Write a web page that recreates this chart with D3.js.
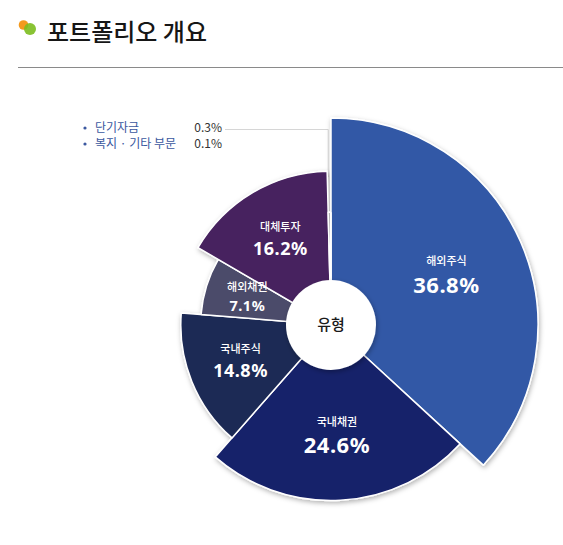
<!DOCTYPE html>
<html>
<head>
<meta charset="utf-8">
<script src="https://cdn.jsdelivr.net/npm/d3@7"></script>
<style>
  body { margin: 0; background: #fff; }
  svg { display: block; font-family: "Noto Sans CJK KR", "Noto Sans", sans-serif; }
</style>
</head>
<body>
<div id="chart"></div>
<script>
const categories = ["해외주식", "국내채권", "국내주식", "해외채권", "대체투자", "단기자금", "복지 · 기타 부문"];
const shares = [36.8, 24.6, 14.8, 7.1, 16.2, 0.3, 0.1];
const colors = ["#3159a6", "#17206a", "#1f2b55", "#4b4b6b", "#46225f", "#151515", "#8a8a8a"];
const centerLabel = "유형";
const titleText = "포트폴리오 개요";

const width = 563, height = 545;
const cx = 331, cy = 325, holeR = 45;

const data = categories.map((c, i) => ({ name: c, value: shares[i], color: colors[i] }));

const svg = d3.select("#chart").append("svg")
    .attr("width", width)
    .attr("height", height)
    .attr("viewBox", [0, 0, width, height]);

// soft shadow under the slices
const defs = svg.append("defs");
defs.append("filter").attr("id", "shadow")
    .attr("x", "-20%").attr("y", "-20%").attr("width", "140%").attr("height", "140%")
  .append("feDropShadow")
    .attr("dx", 1).attr("dy", 2)
    .attr("stdDeviation", 2.5)
    .attr("flood-color", "#000")
    .attr("flood-opacity", 0.3);

// title + icon
svg.append("circle").attr("cx", 23.5).attr("cy", 25).attr("r", 4.8).attr("fill", "#f39a1e");
svg.append("circle").attr("cx", 30).attr("cy", 29).attr("r", 6).attr("fill", "#7cbd1e").attr("fill-opacity", 0.9);
svg.append("text")
    .attr("x", 47).attr("y", 41)
    .attr("font-size", 24)
    .attr("font-weight", 500)
    .attr("fill", "#161616")
    .text(titleText);
svg.append("line")
    .attr("x1", 18).attr("x2", width)
    .attr("y1", 67.5).attr("y2", 67.5)
    .attr("stroke", "#8a8a8a").attr("stroke-width", 1.2);

// radius grows with the share
const r = d3.scaleLinear()
    .domain([0, d3.max(shares)])
    .range([112, 207]);

const pie = d3.pie()
    .sort(null)
    .value(d => d.value);

const arcs = pie(data);

const arc = d3.arc()
    .innerRadius(0)
    .outerRadius(d => r(d.data.value));

const labelArc = d3.arc()
    .innerRadius(holeR)
    .outerRadius(d => r(d.data.value));

const g = svg.append("g").attr("transform", `translate(${cx},${cy})`);

// leader line for the tiny slices
const tiny = arcs.filter(d => d.data.value < 1);
const lead = tiny[0];
const leadMid = (lead.startAngle + lead.endAngle) / 2;
const leadX = Math.sin(leadMid) * r(lead.data.value) - 1;
const leadY = -Math.cos(leadMid) * r(lead.data.value);

g.append("path")
    .attr("d", `M${225 - cx},${129.5 - cy}H${leadX}V${leadY}`)
    .attr("fill", "none")
    .attr("stroke", "#d6d6d6")
    .attr("stroke-width", 1);

g.append("g")
    .attr("filter", "url(#shadow)")
  .selectAll("path")
  .data(arcs)
  .join("path")
    .attr("d", arc)
    .attr("fill", d => d.data.color)
    .attr("stroke", "#fff")
    .attr("stroke-width", 1.5)
    .attr("stroke-linejoin", "round");

// hole
g.append("circle")
    .attr("r", holeR)
    .attr("fill", "#fff")
    .attr("filter", "url(#shadow)");
g.append("text")
    .attr("text-anchor", "middle")
    .attr("dy", "0.36em")
    .attr("font-size", 15)
    .attr("font-weight", 500)
    .attr("fill", "#1a1a1a")
    .text(centerLabel);

// slice labels
const valueSize = d3.scaleThreshold()
    .domain([10, 20])
    .range([14.5, 18, 22]);

const labels = g.selectAll("g.lbl")
  .data(arcs.filter(d => d.data.value >= 1))
  .join("g")
    .attr("class", "lbl")
    .attr("transform", d => `translate(${labelArc.centroid(d)})`);

labels.append("text")
    .attr("text-anchor", "middle")
    .attr("y", d => -0.3 * valueSize(d.data.value) - 3)
    .attr("font-size", 11)
    .attr("font-weight", 500)
    .attr("fill", "#fff")
    .text(d => d.data.name);

labels.append("text")
    .attr("text-anchor", "middle")
    .attr("y", d => 0.78 * valueSize(d.data.value) + 1)
    .attr("font-family", "'Noto Sans', sans-serif")
    .attr("font-size", d => valueSize(d.data.value))
    .attr("font-weight", 700)
    .attr("letter-spacing", 0.5)
    .attr("fill", "#fff")
    .text(d => d3.format(".1f")(d.data.value) + "%");

// legend for the tiny slices
const legend = svg.append("g").attr("transform", "translate(82,132)")
  .selectAll("g")
  .data(tiny)
  .join("g")
    .attr("transform", (d, i) => `translate(0,${i * 16})`);

legend.append("circle")
    .attr("cx", 3).attr("cy", -4)
    .attr("r", 1.6)
    .attr("fill", "#3b58a0");
legend.append("text")
    .attr("x", 13)
    .attr("font-size", 12)
    .attr("fill", "#3b58a0")
    .text(d => d.data.name);
legend.append("text")
    .attr("x", 140)
    .attr("text-anchor", "end")
    .attr("font-size", 12)
    .attr("fill", "#333")
    .text(d => d3.format(".1f")(d.data.value) + "%");
</script>
</body>
</html>
